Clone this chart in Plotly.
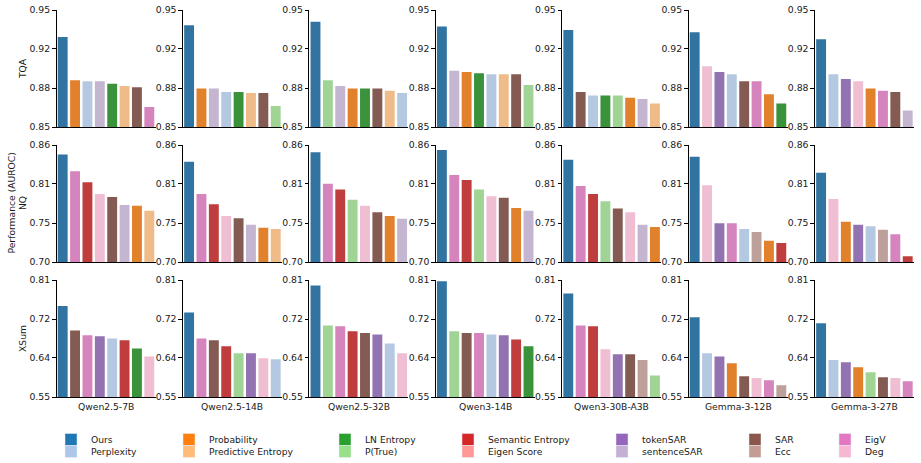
import colorsys
import plotly.graph_objects as go

MODELS = ["Qwen2.5-7B", "Qwen2.5-14B", "Qwen2.5-32B", "Qwen3-14B",
          "Qwen3-30B-A3B", "Gemma-3-12B", "Gemma-3-27B"]
DATASETS = ["TQA", "NQ", "XSum"]

METHODS = ["Ours", "Perplexity", "Probability", "Predictive Entropy", "LN Entropy",
           "P(True)", "Semantic Entropy", "Eigen Score", "tokenSAR", "sentenceSAR",
           "SAR", "Ecc", "EigV", "Deg"]
METHOD_COLORS = ["#1f77b4", "#aec7e8", "#ff7f0e", "#ffbb78", "#2ca02c", "#98df8a",
                 "#d62728", "#ff9896", "#9467bd", "#c5b0d5", "#8c564b", "#c49c94",
                 "#e377c2", "#f7b6d2"]

TQA_METHODS = [
    ["Ours", "Probability", "Perplexity", "sentenceSAR", "LN Entropy", "Predictive Entropy", "SAR", "EigV"],
    ["Ours", "Probability", "sentenceSAR", "Perplexity", "LN Entropy", "Predictive Entropy", "SAR", "P(True)"],
    ["Ours", "P(True)", "sentenceSAR", "Probability", "LN Entropy", "SAR", "Predictive Entropy", "Perplexity"],
    ["Ours", "sentenceSAR", "Probability", "LN Entropy", "Perplexity", "Predictive Entropy", "SAR", "P(True)"],
    ["Ours", "SAR", "Perplexity", "LN Entropy", "P(True)", "Probability", "sentenceSAR", "Predictive Entropy"],
    ["Ours", "Deg", "tokenSAR", "Perplexity", "SAR", "EigV", "Probability", "LN Entropy"],
    ["Ours", "Perplexity", "tokenSAR", "Deg", "Probability", "EigV", "SAR", "sentenceSAR"],
]
TQA_VALUES = [
    [0.927, 0.890, 0.889, 0.889, 0.887, 0.885, 0.884, 0.867],
    [0.937, 0.883, 0.883, 0.880, 0.880, 0.879, 0.879, 0.868],
    [0.940, 0.890, 0.885, 0.883, 0.883, 0.883, 0.881, 0.879],
    [0.936, 0.898, 0.897, 0.896, 0.895, 0.895, 0.895, 0.886],
    [0.933, 0.880, 0.877, 0.877, 0.877, 0.875, 0.874, 0.870],
    [0.931, 0.902, 0.897, 0.895, 0.889, 0.889, 0.878, 0.870],
    [0.925, 0.895, 0.891, 0.889, 0.883, 0.881, 0.880, 0.864],
]

NQ_METHODS = [
    ["Ours", "EigV", "Semantic Entropy", "Deg", "SAR", "sentenceSAR", "Probability", "Predictive Entropy"],
    ["Ours", "EigV", "Semantic Entropy", "Deg", "SAR", "sentenceSAR", "Probability", "Predictive Entropy"],
    ["Ours", "EigV", "Semantic Entropy", "P(True)", "Deg", "SAR", "Probability", "sentenceSAR"],
    ["Ours", "EigV", "Semantic Entropy", "P(True)", "Deg", "SAR", "Probability", "sentenceSAR"],
    ["Ours", "EigV", "Semantic Entropy", "P(True)", "SAR", "Deg", "sentenceSAR", "Probability"],
    ["Ours", "Deg", "tokenSAR", "EigV", "Perplexity", "Ecc", "Probability", "Semantic Entropy"],
    ["Ours", "Deg", "Probability", "tokenSAR", "Perplexity", "Ecc", "EigV", "Semantic Entropy"],
]
NQ_VALUES = [
    [0.847, 0.824, 0.809, 0.793, 0.789, 0.778, 0.777, 0.770],
    [0.837, 0.793, 0.779, 0.763, 0.760, 0.751, 0.747, 0.745],
    [0.850, 0.807, 0.799, 0.785, 0.777, 0.768, 0.763, 0.759],
    [0.853, 0.819, 0.812, 0.799, 0.790, 0.788, 0.774, 0.770],
    [0.840, 0.804, 0.793, 0.783, 0.773, 0.768, 0.751, 0.748],
    [0.844, 0.805, 0.753, 0.753, 0.745, 0.741, 0.729, 0.726],
    [0.822, 0.786, 0.755, 0.751, 0.749, 0.744, 0.738, 0.708],
]

XSUM_METHODS = [
    ["Ours", "SAR", "EigV", "tokenSAR", "Perplexity", "Semantic Entropy", "LN Entropy", "Deg"],
    ["Ours", "EigV", "SAR", "Semantic Entropy", "P(True)", "tokenSAR", "Deg", "Perplexity"],
    ["Ours", "P(True)", "EigV", "Semantic Entropy", "SAR", "tokenSAR", "Perplexity", "Deg"],
    ["Ours", "P(True)", "SAR", "EigV", "Perplexity", "tokenSAR", "Semantic Entropy", "LN Entropy"],
    ["Ours", "EigV", "Semantic Entropy", "Deg", "tokenSAR", "SAR", "Ecc", "P(True)"],
    ["Ours", "Perplexity", "tokenSAR", "Probability", "SAR", "Deg", "EigV", "Ecc"],
    ["Ours", "Perplexity", "tokenSAR", "Probability", "P(True)", "SAR", "Deg", "EigV"],
]
XSUM_VALUES = [
    [0.752, 0.698, 0.687, 0.685, 0.680, 0.676, 0.658, 0.640],
    [0.738, 0.680, 0.676, 0.663, 0.647, 0.647, 0.636, 0.634],
    [0.798, 0.709, 0.707, 0.696, 0.692, 0.689, 0.669, 0.647],
    [0.807, 0.696, 0.692, 0.692, 0.689, 0.687, 0.678, 0.663],
    [0.780, 0.709, 0.707, 0.656, 0.645, 0.645, 0.632, 0.598],
    [0.727, 0.647, 0.640, 0.625, 0.596, 0.592, 0.587, 0.576],
    [0.714, 0.632, 0.627, 0.616, 0.605, 0.594, 0.592, 0.585],
]

Y_RANGES = [[0.85, 0.95], [0.70, 0.86], [0.55, 0.81]]
Y_TICKVALS = [[0.85, 0.8833, 0.9167, 0.95], [0.70, 0.7533, 0.8067, 0.86], [0.55, 0.6367, 0.7233, 0.81]]
Y_TICKTEXT = [["0.85", "0.88", "0.92", "0.95"], ["0.70", "0.75", "0.81", "0.86"], ["0.55", "0.64", "0.72", "0.81"]]

ALL_METHODS = [TQA_METHODS, NQ_METHODS, XSUM_METHODS]
ALL_VALUES = [TQA_VALUES, NQ_VALUES, XSUM_VALUES]

# ---------------- styling ----------------
W, H = 921, 463
FONT = "DejaVu Sans"
TXT = "#1a1a1a"
COL_X0, COL_STEP, COL_W = 56.5, 126.4, 99
ROW_TOP = [10, 145, 280]
ROW_H = 117
LEGEND_TEXT_X = [91, 209, 365, 488, 642, 775, 865]
LEGEND_ROW_Y = [439.5, 451.5]


def desaturate(hexcol, prop=0.75):
    r, g, b = (int(hexcol[i:i + 2], 16) / 255 for i in (1, 3, 5))
    h, l, s = colorsys.rgb_to_hls(r, g, b)
    r, g, b = colorsys.hls_to_rgb(h, l, s * prop)
    return "rgb(%d,%d,%d)" % (round(r * 255), round(g * 255), round(b * 255))


BAR_COLOR = {m: desaturate(c) for m, c in zip(METHODS, METHOD_COLORS)}
LEG_COLOR = dict(zip(METHODS, METHOD_COLORS))

fig = go.Figure()
layout = {}
annotations = []

for r in range(3):
    for c in range(7):
        k = r * 7 + c + 1
        xa = "x" if k == 1 else "x%d" % k
        ya = "y" if k == 1 else "y%d" % k
        meths = ALL_METHODS[r][c]
        vals = ALL_VALUES[r][c]
        fig.add_trace(go.Bar(
            x=meths, y=vals, xaxis=xa, yaxis=ya,
            marker=dict(color=[BAR_COLOR[m] for m in meths], line=dict(width=0)),
            showlegend=False, hovertemplate="%{x}: %{y:.3f}<extra></extra>",
        ))
        x0 = (COL_X0 + c * COL_STEP) / W
        x1 = (COL_X0 + c * COL_STEP + COL_W) / W
        y1 = 1 - ROW_TOP[r] / H
        y0 = 1 - (ROW_TOP[r] + ROW_H) / H
        layout["xaxis" if k == 1 else "xaxis%d" % k] = dict(
            domain=[x0, x1], anchor=ya, showticklabels=False, ticks="",
            showgrid=False, zeroline=False, showline=True, linecolor="#000",
            linewidth=1, type="category", range=[-0.5, 7.5], fixedrange=True,
            automargin=False,
        )
        layout["yaxis" if k == 1 else "yaxis%d" % k] = dict(
            domain=[y0, y1], anchor=xa, range=Y_RANGES[r],
            tickvals=Y_TICKVALS[r], ticktext=Y_TICKTEXT[r],
            ticks="outside", ticklen=3.5, tickwidth=0.8, tickcolor="#000",
            showgrid=False, zeroline=False, showline=True, linecolor="#000",
            linewidth=1, tickfont=dict(family=FONT, size=9.3, color=TXT),
            fixedrange=True, automargin=False,
        )
        if r == 2:
            annotations.append(dict(
                text=MODELS[c], xref="x%d domain" % k, yref="y%d domain" % k,
                x=0.5, y=0, xanchor="center", yanchor="top", yshift=-2,
                showarrow=False, font=dict(family=FONT, size=9.2, color=TXT),
            ))

# row labels
for r, name in enumerate(DATASETS):
    annotations.append(dict(
        text=name, xref="paper", yref="paper", x=22.5 / W,
        y=1 - (ROW_TOP[r] + ROW_H / 2) / H, textangle=-90,
        xanchor="center", yanchor="middle", showarrow=False,
        font=dict(family=FONT, size=9.2, color=TXT),
    ))
annotations.append(dict(
    text="Performance (AUROC)", xref="paper", yref="paper", x=11 / W,
    y=1 - (ROW_TOP[1] + ROW_H / 2) / H, textangle=-90,
    xanchor="center", yanchor="middle", showarrow=False,
    font=dict(family=FONT, size=9.2, color=TXT),
))

# legend: one legend per entry, laid out in 7 columns x 2 rows
for i, m in enumerate(METHODS):
    col, row = i // 2, i % 2
    lname = "legend" if i == 0 else "legend%d" % (i + 1)
    fig.add_trace(go.Bar(
        x=[None], y=[None], name=m, marker=dict(color=LEG_COLOR[m]),
        legend=lname, showlegend=True, hoverinfo="skip",
    ))
    layout[lname] = dict(
        x=(LEGEND_TEXT_X[col] - 40) / W, y=1 - LEGEND_ROW_Y[row] / H,
        xanchor="left", yanchor="middle", bgcolor="rgba(0,0,0,0)",
        borderwidth=0, itemwidth=30,
        font=dict(family=FONT, size=9.2, color=TXT),
    )

fig.update_layout(
    width=W, height=H,
    margin=dict(l=0, r=0, t=0, b=0, pad=0, autoexpand=False),
    paper_bgcolor="white", plot_bgcolor="white",
    bargap=0.2, annotations=annotations,
    font=dict(family=FONT, size=9.2, color=TXT),
    **layout,
)

fig.write_html("out.html")
